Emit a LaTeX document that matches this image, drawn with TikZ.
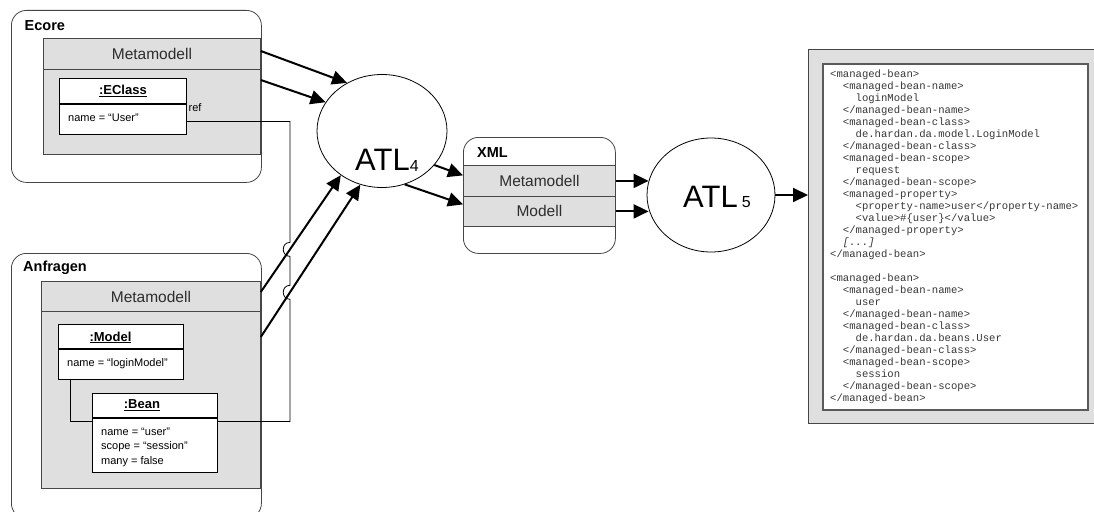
\documentclass[tikz,border=0pt]{standalone}
\usepackage{fontspec}
\setmainfont{Liberation Sans}
\setmonofont{Liberation Mono}
\usetikzlibrary{arrows.meta,calc,intersections,shapes.geometric}

\definecolor{panelgray}{RGB}{223,223,223}
\definecolor{edgegray}{RGB}{70,70,70}
\definecolor{titlegray}{RGB}{45,45,45}
\definecolor{codegray}{RGB}{55,55,55}
\definecolor{codeedge}{RGB}{90,90,90}

% indentation steps of the XML listing (two characters each)
\newcommand\indA{\hspace*{1.2em}}
\newcommand\indB{\hspace*{2.4em}}

\tikzset{
  group/.style={draw=edgegray, fill=white, line width=0.8pt, rounded corners=15pt,
                anchor=north west, inner sep=0pt},
  grouplabel/.style={font=\bfseries\fontsize{14.5}{16}\selectfont, anchor=west, inner sep=0pt},
  panel/.style={draw=edgegray, fill=panelgray, line width=0.8pt, anchor=north west, inner sep=0pt},
  paneltitle/.style={font=\fontsize{15.5}{17}\selectfont, text=titlegray, inner sep=0pt},
  objbox/.style={draw=black, fill=white, line width=0.9pt, anchor=north west, inner sep=0pt},
  objtitle/.style={font=\bfseries\fontsize{13}{15}\selectfont, anchor=base, inner sep=0pt},
  attr/.style={font=\fontsize{11}{14.5}\selectfont, anchor=base west, inner sep=0pt},
  objrule/.style={line width=1.6pt},
  panelrule/.style={draw=edgegray, line width=0.8pt},
  link/.style={draw=black, line width=0.8pt},
  flow/.style={line width=2pt, -{Triangle[length=15pt,width=14pt]}},
  proc/.style={ellipse, draw=black, line width=0.8pt, fill=white, inner sep=0pt},
  proclabel/.style={anchor=base west, inner sep=0pt, font=\fontsize{31}{31}\selectfont},
}

\begin{document}
\begin{tikzpicture}[x=1pt,y=-1pt]
\useasboundingbox (0,0) rectangle (1094,511);
\fill[white] (0,0) rectangle (1094,511);

% ---- Ecore metamodel ----
\node[group, minimum width=250pt, minimum height=172pt] (ecore) at (11,10) {};
\node[grouplabel] (ecorelbl) at (24.5,26) {Ecore};
\node[panel, minimum width=217pt, minimum height=116pt] (ecoremeta) at (43,38) {};
\draw[panelrule] ([yshift=-31pt]ecoremeta.north west) -- ([yshift=-31pt]ecoremeta.north east);
\node[paneltitle] (ecoremetat) at ([yshift=-16pt]ecoremeta.north) {Metamodell};
\node[objbox, minimum width=127pt, minimum height=56pt] (eclass) at (59,78) {};
\draw[objrule] ([yshift=-26pt]eclass.north west) -- ([yshift=-26pt]eclass.north east);
\node[objtitle] (eclasst) at ([yshift=-16.7pt]eclass.north) {\underline{:EClass}};
\node[attr] (eclassa) at (68,121.5) {name = “User”};
\node[attr] (reflbl) at (188.5,111.5) {ref};

% ---- Anfragen (queries) ----
\node[group, minimum width=250pt, minimum height=265pt] (anfr) at (11,253) {};
\node[grouplabel] (anfrlbl) at (23,268) {Anfragen};
\node[panel, minimum width=219pt, minimum height=207pt] (anfrmeta) at (41,281) {};
\draw[panelrule] ([yshift=-30pt]anfrmeta.north west) -- ([yshift=-30pt]anfrmeta.north east);
\node[paneltitle] (anfrmetat) at ([yshift=-16pt]anfrmeta.north) {Metamodell};
\node[objbox, minimum width=125pt, minimum height=55pt] (model) at (58,324) {};
\draw[objrule] ([yshift=-25pt]model.north west) -- ([yshift=-25pt]model.north east);
\node[objtitle] (modelt) at ([xshift=-10.5pt,yshift=-17pt]model.north) {\underline{:Model}};
\node[attr] (modela) at (67,366) {name = “loginModel”};
\node[objbox, minimum width=125pt, minimum height=79pt] (bean) at (92,393) {};
\draw[objrule] ([yshift=-25pt]bean.north west) -- ([yshift=-25pt]bean.north east);
\node[objtitle] (beant) at ([xshift=-13pt,yshift=-15.8pt]bean.north) {\underline{:Bean}};
\node[attr] (beana1) at (101,435.2) {name = “user”};
\node[attr] (beana2) at (101,449.7) {scope = “session”};
\node[attr] (beana3) at (101,464.2) {many = false};
\draw[link] ([xshift=-50.5pt]model.south) |- ([yshift=11.5pt]bean.west);

% ---- XML model ----
\node[group, minimum width=152pt, minimum height=116pt] (xml) at (463,137) {};
\node[grouplabel] (xmllbl) at (477,153) {XML};
\node[panel, paneltitle, anchor=north west, minimum width=152pt, minimum height=31pt] (xmlmeta) at (463,165) {Metamodell};
\node[panel, paneltitle, anchor=north west, minimum width=152pt, minimum height=30pt] (xmlmod) at (463,196) {Modell};

% ---- transformations ----
\node[proc, minimum width=130pt, minimum height=113pt] (atl4) at (382,131) {};
\node[proclabel] (atl4lbl) at (355,170) {ATL\raisebox{-1.5pt}{\fontsize{16}{16}\selectfont 4}};
\node[proc, minimum width=128pt, minimum height=114pt] (atl5) at (711,195) {};
\node[proclabel] (atl5lbl) at (683,207) {ATL\hspace{4pt}{\fontsize{16}{16}\selectfont 5}};

% ---- generated faces-config fragment ----
\node[draw=edgegray, fill=panelgray, line width=1pt, anchor=north west, inner sep=0pt,
      minimum width=292pt, minimum height=374pt] (codeframe) at (808,49) {};
\node[draw=codeedge, fill=white, line width=1.6pt, anchor=north west, inner sep=0pt,
      minimum width=265pt, minimum height=346pt] (codebox) at (822,63) {};
\node[anchor=north west, inner sep=0pt, align=left, text=codegray,
      font=\ttfamily\fontsize{10.6}{12}\selectfont] (code) at (830,69.5) {%
<managed-bean>\\
\indA<managed-bean-name>\\
\indB loginModel\\
\indA</managed-bean-name>\\
\indA<managed-bean-class>\\
\indB de.hardan.da.model.LoginModel\\
\indA</managed-bean-class>\\
\indA<managed-bean-scope>\\
\indB request\\
\indA</managed-bean-scope>\\
\indA<managed-property>\\
\indB<property-name>user</property-name>\\
\indB<value>\#\{user\}</value>\\
\indA</managed-property>\\
\indA\textit{[...]}\\
</managed-bean>\\
\mbox{}\\
<managed-bean>\\
\indA<managed-bean-name>\\
\indB user\\
\indA</managed-bean-name>\\
\indA<managed-bean-class>\\
\indB de.hardan.da.beans.User\\
\indA</managed-bean-class>\\
\indA<managed-bean-scope>\\
\indB session\\
\indA</managed-bean-scope>\\
</managed-bean>};

% ---- data flow ----
\draw[flow] ([yshift=-13pt]ecoremeta.north east) -- (atl4.126);
\draw[flow] ([yshift=-42pt]ecoremeta.north east) -- (atl4.153);
\draw[flow, name path=q1] ([yshift=-11pt]anfrmeta.north east) -- (atl4.227);
\draw[flow, name path=q2] ([yshift=-56pt]anfrmeta.north east) -- (atl4.248);
\draw[flow] (atl4.327) -- ([yshift=5.5pt]xmlmeta.west);
\draw[flow] (atl4.293) -- ([yshift=7pt]xmlmod.west);
\draw[flow] (xmlmeta.east) -- ([xshift=2pt]xmlmeta.east -| atl5.west);
\draw[flow] (xmlmod.east) -- ([xshift=2pt]xmlmod.east -| atl5.west);
\draw[flow] (atl5.east) -- (atl5.east -| codeframe.west);

% ---- ref link with jumps over the query arrows ----
\path[name path=refbus] (290,100) -- (290,450);
\path[name intersections={of=refbus and q1, by=jA}];
\path[name intersections={of=refbus and q2, by=jB}];
\draw[link] ([yshift=-15pt]eclass.east) -| ([yshift=7pt]jA)
  .. controls ([xshift=-9pt,yshift=7pt]jA) and ([xshift=-9pt,yshift=-7pt]jA) .. ([yshift=-7pt]jA)
  -- ([yshift=7pt]jB)
  .. controls ([xshift=-9pt,yshift=7pt]jB) and ([xshift=-9pt,yshift=-7pt]jB) .. ([yshift=-7pt]jB)
  |- ([yshift=11.5pt]bean.east);
\end{tikzpicture}
\end{document}
